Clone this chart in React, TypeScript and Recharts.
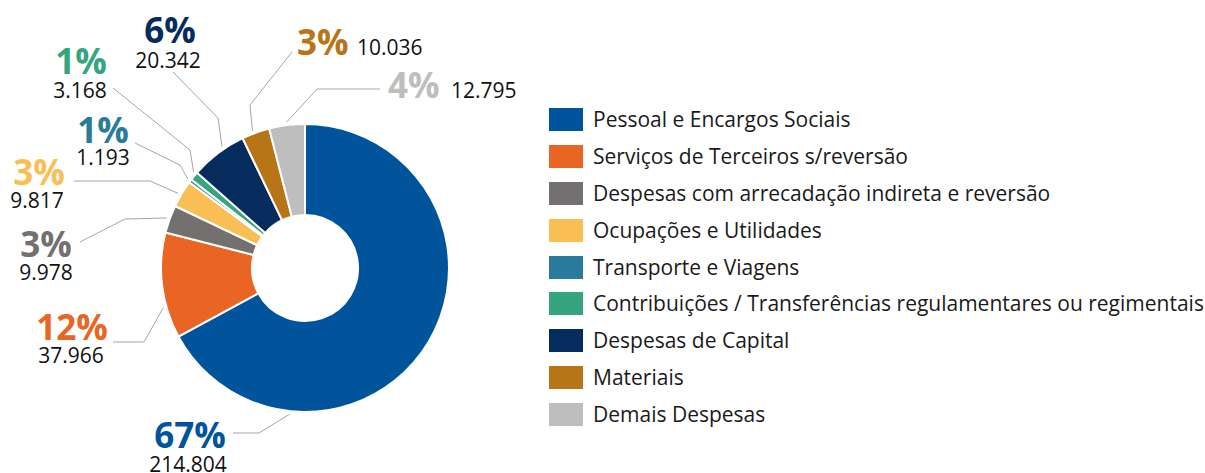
import React from 'react';
import { PieChart, Pie, Cell, Legend } from 'recharts';

// values (R$ mil)
const categories = [
  'Pessoal e Encargos Sociais',
  'Serviços de Terceiros s/reversão',
  'Despesas com arrecadação indireta e reversão',
  'Ocupações e Utilidades',
  'Transporte e Viagens',
  'Contribuições / Transferências regulamentares ou regimentais',
  'Despesas de Capital',
  'Materiais',
  'Demais Despesas',
];
const values = [214804, 37966, 9978, 9817, 1193, 3168, 20342, 10036, 12795];
const percentLabels = ['67%', '12%', '3%', '3%', '1%', '1%', '6%', '3%', '4%'];
const colors = [
  '#00549C', '#E86524', '#747070', '#F9BF55', '#287B9A',
  '#34A57E', '#062C5E', '#B87517', '#BEBEBE',
];

// hand placed label layout, offsets from the pie centre
// t = where along the slice the leader line starts (0 = slice start, clockwise)
const labelLayout = [
  { t: 0.77, elbow: [-46, 165], end: [-72, 165], pct: [-115, 180], val: [-117, 204], anchor: 'middle' },
  { t: 0.3, elbow: [-161, 74], end: [-192, 74], pct: [-233, 72], val: [-234, 95], anchor: 'middle' },
  { t: 0.5, elbow: [-180, -49], end: [-225, -26], pct: [-259, -11], val: [-259, 12], anchor: 'middle' },
  { t: 0.45, elbow: [-155, -87], end: [-231, -87], pct: [-266, -83], val: [-268, -60], anchor: 'middle' },
  { t: 0.5, elbow: [-125, -103], end: [-170, -125], pct: [-202, -125], val: [-202, -103], anchor: 'middle' },
  { t: 0.8, elbow: [-115, -118], end: [-192, -180], pct: [-224, -194], val: [-225, -170], anchor: 'middle' },
  { t: 0.62, elbow: [-87, -150], end: [-132, -196], pct: [-135, -225], val: [-137, -200], anchor: 'middle' },
  { t: 0.42, elbow: [-55, -163], end: [-13, -216], pct: [-8, -213], val: [52, -213], anchor: 'start' },
  { t: 0.5, elbow: [12, -179], end: [75, -179], pct: [83, -170], val: [146, -170], anchor: 'start' },
];

const chartData = categories.map((name, i) => ({ name, value: values[i] }));

const FONT = '"Open Sans", "Noto Sans", sans-serif';
const RAD = Math.PI / 180;

const formatValue = (v: number) => String(v).replace(/\B(?=(\d{3})+(?!\d))/g, '.');

const renderLabel = (props: any) => {
  const { cx, cy, midAngle, outerRadius, percent, index, value } = props;
  const lay = labelLayout[index];
  const span = percent * 360;
  const ang = midAngle + span * (0.5 - lay.t);
  const r = outerRadius + 3;
  const sx = cx + r * Math.cos(-ang * RAD);
  const sy = cy + r * Math.sin(-ang * RAD);
  const pts = `${sx},${sy} ${cx + lay.elbow[0]},${cy + lay.elbow[1]} ${cx + lay.end[0]},${cy + lay.end[1]}`;
  return (
    <g>
      <polyline points={pts} fill="none" stroke="#A6A6A6" strokeWidth={1} />
      <text
        x={cx + lay.pct[0]}
        y={cy + lay.pct[1]}
        textAnchor={lay.anchor}
        fill={colors[index]}
        fontFamily={FONT}
        fontWeight={700}
        fontSize={35}
      >
        {percentLabels[index]}
      </text>
      <text
        x={cx + lay.val[0]}
        y={cy + lay.val[1]}
        textAnchor={lay.anchor}
        fill="#111"
        fontFamily={FONT}
        fontSize={21}
      >
        {formatValue(value)}
      </text>
    </g>
  );
};

const LegendList = () => (
  <div style={{ fontFamily: FONT, fontSize: 21, color: '#1a1a1a' }}>
    {categories.map((name, i) => (
      <div key={name} style={{ display: 'flex', alignItems: 'center', height: 36.9 }}>
        <span style={{ width: 34, height: 23, background: colors[i], marginRight: 10, flexShrink: 0 }} />
        <span style={{ whiteSpace: 'nowrap', lineHeight: '23px' }}>{name}</span>
      </div>
    ))}
  </div>
);

export default function App() {
  return (
    <div style={{ position: 'absolute', left: 0, top: 0, background: '#fff' }}>
      <PieChart width={1205} height={473} margin={{ top: 0, right: 0, bottom: 0, left: 0 }}>
        <Pie
          data={chartData}
          dataKey="value"
          nameKey="name"
          cx={305}
          cy={268}
          innerRadius={53}
          outerRadius={144}
          startAngle={90}
          endAngle={-270}
          stroke="#fff"
          strokeWidth={2}
          label={renderLabel}
          labelLine={false}
          isAnimationActive={false}
        >
          {chartData.map((d, i) => (
            <Cell key={d.name} fill={colors[i]} />
          ))}
        </Pie>
        <Legend
          content={<LegendList />}
          wrapperStyle={{ left: 549, top: 101, width: 660 }}
        />
      </PieChart>
    </div>
  );
}
